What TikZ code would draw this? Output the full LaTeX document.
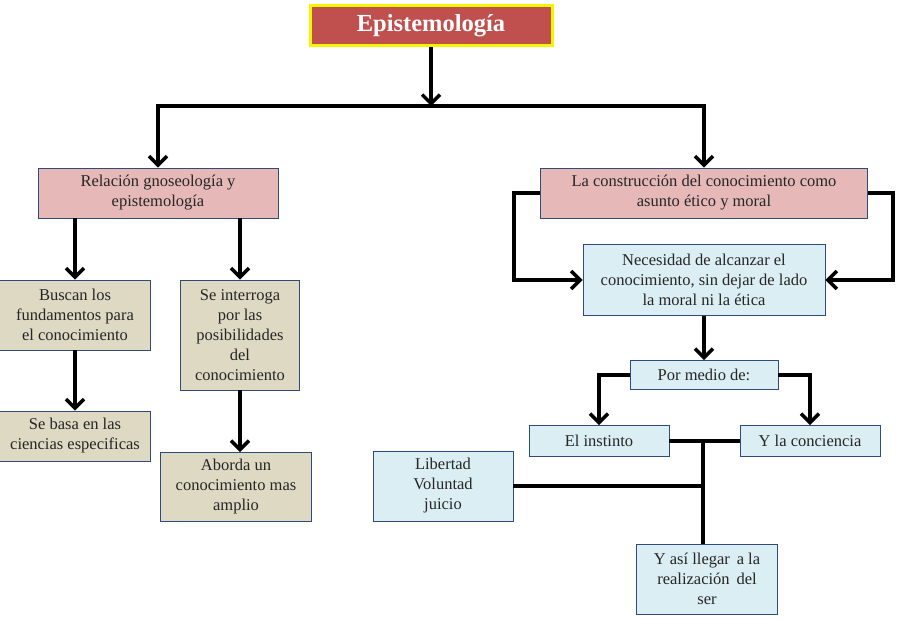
\documentclass[tikz,border=0pt]{standalone}
\usepackage{fontspec}
\setmainfont{Liberation Serif}
\usetikzlibrary{arrows.meta}
\definecolor{rojo}{HTML}{C0504D}
\definecolor{amarillo}{HTML}{F5F500}
\definecolor{rosa}{HTML}{E6B9B8}
\definecolor{crema}{HTML}{DDD9C3}
\definecolor{celeste}{HTML}{DBEEF4}
\definecolor{borde}{HTML}{2F4B7C}
\definecolor{texto}{HTML}{262626}

\begin{document}
\begin{tikzpicture}[x=1pt,y=-1pt,
    caja/.style={draw=borde,thick,align=center,inner sep=0pt,text=texto,
      font=\fontsize{16.5}{20}\selectfont},
    cajarosa/.style={caja,fill=rosa},
    cajacrema/.style={caja,fill=crema},
    cajaceleste/.style={caja,fill=celeste},
    flecha/.style={line width=3.5pt,-{Straight Barb[length=9pt,width=18pt]}},
    linea/.style={line width=3.5pt}]
  \fill[white] (0,0) rectangle (900,620);
  \useasboundingbox (0,0) rectangle (900,620);

  \node[fill=rojo,draw=amarillo,line width=3pt,text=white,inner sep=0pt,
    minimum width=242,minimum height=40,font=\bfseries\fontsize{24.5}{28}\selectfont]
    (epi) at (431,26) {Epistemología};

  \node[cajarosa,minimum width=240,minimum height=50] (rel) at (158,193)
    {Relación gnoseología y\\epistemología};
  \node[cajarosa,minimum width=327,minimum height=50] (cons) at (704,193)
    {La construcción del conocimiento como\\asunto ético y moral};

  % rama izquierda
  \node[cajacrema,minimum width=151,minimum height=70] (bus) at (75,315)
    {Buscan los\\fundamentos para\\el conocimiento};
  \node[cajacrema,minimum width=119,minimum height=110] (int) at (240,335)
    {Se interroga\\por las\\posibilidades\\del\\conocimiento};
  \node[cajacrema,minimum width=151,minimum height=50] (bas) at (75,436)
    {Se basa en las\\ciencias especificas};
  \node[cajacrema,minimum width=151,minimum height=69] (abo) at (236,487)
    {Aborda un\\conocimiento mas\\amplio};

  % rama derecha
  \node[cajaceleste,minimum width=242,minimum height=71] (nec) at (704,280)
    {Necesidad de alcanzar el\\conocimiento, sin dejar de lado\\la moral ni la ética};
  \node[cajaceleste,minimum width=148,minimum height=29] (por) at (704,375)
    {Por medio de:};
  \node[cajaceleste,minimum width=140,minimum height=31] (ins) at (599,441)
    {El instinto};
  \node[cajaceleste,minimum width=140,minimum height=31] (con) at (810,441)
    {Y la conciencia};
  \node[cajaceleste,minimum width=140,minimum height=70] (lib) at (443,486)
    {Libertad\\Voluntad\\juicio};
  \node[cajaceleste,minimum width=141,minimum height=70] (asi) at (707,579)
    {Y así llegar\, a la\\realización\, del\\ser};

  \coordinate (cruce) at (431,106);
  \coordinate (eje) at (703,441);

  \draw[flecha] (epi.south) -- (epi.south |- cruce);
  \draw[flecha] (cons.north |- cruce) -- (rel.north |- cruce) -- (rel.north);
  \draw[flecha] (rel.north |- cruce) -- (cons.north |- cruce) -- (cons.north);

  \draw[flecha] (rel.south -| bus) -- (bus.north);
  \draw[flecha] (rel.south -| int) -- (int.north);
  \draw[flecha] (bus.south) -- (bas.north);
  \draw[flecha] (int.south) -- (int.south |- abo.north);

  \draw[flecha] (cons.west) -- ++(-26,0) |- (nec.west);
  \draw[flecha] (cons.east) -- ++(25,0) |- (nec.east);
  \draw[flecha] (nec.south) -- (por.north);
  \draw[flecha] (por.west) -| (ins.north);
  \draw[flecha] (por.east) -| (con.north);

  \draw[linea] (ins.east) -- (con.west);
  \draw[linea] (eje) -- (eje |- asi.north);
  \draw[linea] (lib.east) -- (lib.east -| eje);
\end{tikzpicture}
\end{document}
